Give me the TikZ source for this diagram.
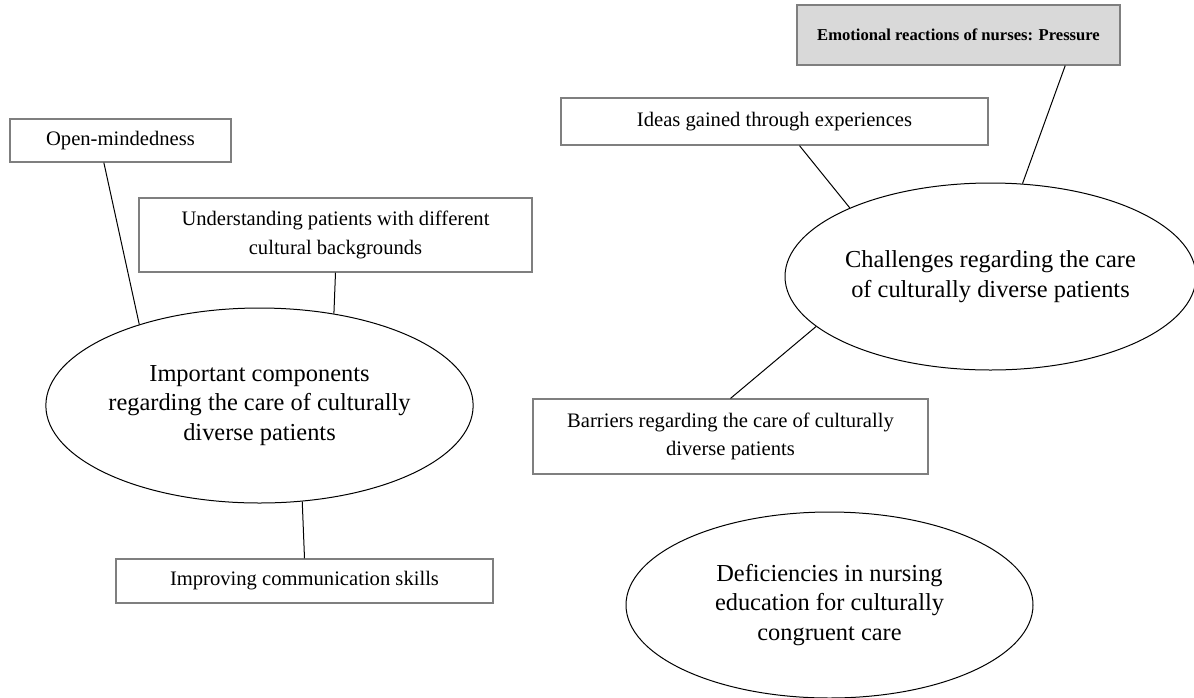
\documentclass[tikz,border=0pt]{standalone}
\usepackage{fontspec}
\setmainfont{Liberation Serif}
\usetikzlibrary{shapes.geometric}
\definecolor{codeLine}{HTML}{7F7F7F}
\definecolor{codeFill}{HTML}{D9D9D9}

\begin{document}
\begin{tikzpicture}[x=0.5pt, y=-0.5pt,
  theme/.style={ellipse, draw=black, line width=0.5pt, inner sep=0pt,
    align=center, font=\fontsize{12.2}{14.8}\selectfont},
  code/.style={rectangle, draw=codeLine, line width=0.6pt, inner sep=0pt,
    align=center, font=\fontsize{10.3}{14.3}\selectfont},
  link/.style={draw=black, line width=0.5pt}
]
  \useasboundingbox (0,0) rectangle (1194,697);

  % main themes
  \node[theme, minimum width=212.5pt, minimum height=97.5pt] (comp) at (259.5,405.5) {
    Important components\\
    regarding the care of culturally\\
    diverse patients
  };
  \node[theme, minimum width=202.5pt, minimum height=93.5pt] (chall) at (990.5,276.5) {
    Challenges regarding the care\\
    of culturally diverse patients
  };
  \node[theme, minimum width=203.5pt, minimum height=93pt] (defic) at (829.5,605) {
    Deficiencies in nursing\\
    education for culturally\\
    congruent care
  };

  % sub-themes
  \node[code, minimum width=110.5pt, minimum height=21.5pt] (open) at (120.5,140.5) {Open-mindedness};
  \node[code, minimum width=196.5pt, minimum height=37pt] (underst) at (335.5,235) {
    Understanding patients with different\\
    cultural backgrounds
  };
  \node[code, minimum width=188.5pt, minimum height=22pt] (improv) at (304.5,581) {Improving communication skills};
  \node[code, minimum width=213.5pt, minimum height=23.5pt] (ideas) at (774.5,121.5) {Ideas gained through experiences};
  \node[code, fill=codeFill, minimum width=161.5pt, minimum height=30pt,
    font=\fontsize{8.3}{12}\selectfont\bfseries] (emot) at (958.5,35) {Emotional reactions of nurses: Pressure};
  \node[code, minimum width=197.5pt, minimum height=37.5pt] (barr) at (730.5,436.5) {
    Barriers regarding the care of culturally\\
    diverse patients
  };

  \draw[link] (open.-127) -- (comp.146.7);
  \draw[link] (underst.south) -- (comp.51.6);
  \draw[link] (comp.-66.7) -- (improv.north);
  \draw[link] (ideas.-44) -- (chall.154.3);
  \draw[link] (emot.-16.5) -- (chall.71);
  \draw[link] (chall.-164.1) -- (barr.north);
\end{tikzpicture}
\end{document}
